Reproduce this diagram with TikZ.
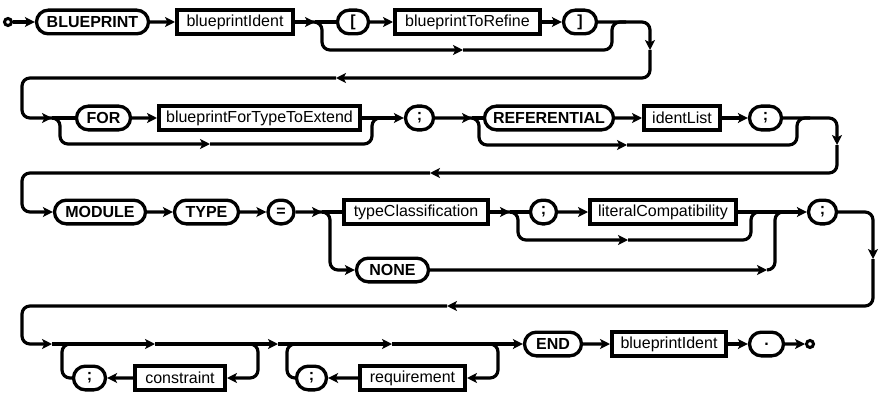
\documentclass[tikz,border=0pt]{standalone}
\usepackage{fontspec}
\setmainfont{Liberation Sans}
\usetikzlibrary{arrows.meta,shapes.misc}
\begin{document}
\begin{tikzpicture}[x=1pt,y=-1pt,
  conn/.style={line width=3.2pt, rounded corners=8pt},
  arr/.style={conn,-{Stealth[length=10pt,width=10pt,inset=2.5pt]}},
  nt/.style={draw, rectangle, line width=4pt, minimum height=24pt, inner sep=0pt, font=\fontsize{16}{18}\selectfont},
  tm/.style={draw, rounded rectangle, line width=3.3pt, minimum height=23.7pt, inner sep=0pt, font=\fontsize{16}{18}\selectfont\bfseries},
  dot/.style={draw, circle, line width=3pt, minimum size=7pt, inner sep=0pt}]
\useasboundingbox (0,0) rectangle (885,401);

% ---------- nodes ----------
\node[dot] (s) at (8,22) {};
\node[tm, minimum width=112pt] (t1) at (92.5,22) {BLUEPRINT};
\node[nt, minimum width=116pt] (n1) at (235,22) {blueprintIdent};
\node[tm, minimum width=31pt] (t2) at (353,22) {[};
\node[nt, minimum width=145pt] (n2) at (467.5,22) {blueprintToRefine};
\node[tm, minimum width=33pt] (t3) at (580,22) {]};

\node[tm, minimum width=54pt] (t4) at (103.5,118) {FOR};
\node[nt, minimum width=201pt] (n3) at (259.5,118) {blueprintForTypeToExtend};
\node[tm, minimum width=28pt] (t5) at (419.5,118) {;};
\node[tm, minimum width=129pt] (t6) at (549,118) {REFERENTIAL};
\node[nt, minimum width=76pt] (n4) at (682,118) {identList};
\node[tm, minimum width=32pt] (t7) at (765.5,118) {;};

\node[tm, minimum width=91pt] (t8) at (100,212) {MODULE};
\node[tm, minimum width=64pt] (t9) at (206.5,212) {TYPE};
\node[tm, minimum width=26pt] (t10) at (281,212) {=};
\node[nt, minimum width=144pt] (n5) at (416,212) {typeClassification};
\node[tm, minimum width=26pt] (t11) at (543.5,212) {;};
\node[nt, minimum width=146pt] (n6) at (663,212) {literalCompatibility};
\node[tm, minimum width=72pt] (t12) at (392.5,270) {NONE};
\node[tm, minimum width=28pt] (t13) at (822.5,212) {;};

\node[tm, minimum width=32pt] (t14) at (89.5,378) {;};
\node[nt, minimum width=90pt] (n7) at (180,378) {constraint};
\node[tm, minimum width=30pt] (t15) at (311.5,378) {;};
\node[nt, minimum width=105pt] (n8) at (412.5,378) {requirement};
\node[tm, minimum width=57pt] (t16) at (553,344) {END};
\node[nt, minimum width=114pt] (n9) at (669,344) {blueprintIdent};
\node[tm, minimum width=34pt] (t17) at (766.5,344) {.};
\node[dot] (e) at (810,344) {};

% ---------- junction coordinates ----------
\coordinate (b1) at (315,22);
\coordinate (m1) at (463,50);
\coordinate (r1) at (650,50);
\coordinate (c1) at (336,78);
\coordinate (b2) at (52,118);
\coordinate (m2) at (210,144);
\coordinate (b3) at (472,118);
\coordinate (m3) at (627,145);
\coordinate (r2) at (837,145);
\coordinate (c2) at (430,173);
\coordinate (b5) at (322,212);
\coordinate (b6) at (510,212);
\coordinate (m4) at (628,240);
\coordinate (m5) at (767,270);
\coordinate (r3) at (873,259);
\coordinate (c3) at (447,306);
\coordinate (b7) at (52,344);
\coordinate (m6) at (155,344);
\coordinate (m7) at (278,344);
\coordinate (m8) at (392,344);

% ---------- row 1 ----------
\draw[arr] (s) -- (t1);
\draw[arr] (t1) -- (n1);
\draw[arr] (n1) -- (b1);
\draw[conn] (b1) -- (t2);
\draw[arr] (t2) -- (n2);
\draw[arr] (n2) -- (t3);
\draw[arr] ([xshift=-5pt]b1) -| (322,50) -- (m1);
\draw[conn] (m1) -| (612,22) -- (626,22);
\draw[arr] (t3) -| (r1);
\draw[arr] (r1) |- (c1);
\draw[arr] (c1) -| (22,118) -- (b2);

% ---------- row 2 ----------
\draw[conn] (b2) -- (t4);
\draw[arr] (t4) -- (n3);
\draw[arr] (n3) -- (t5);
\draw[arr] ([xshift=-5pt]b2) -| (60,144) -- (m2);
\draw[conn] (m2) -| (372,118) -- (386,118);
\draw[arr] (t5) -- (b3);
\draw[conn] (b3) -- (t6);
\draw[arr] (t6) -- (n4);
\draw[arr] (n4) -- (t7);
\draw[arr] ([xshift=-5pt]b3) -| (479,145) -- (m3);
\draw[conn] (m3) -| (797,118) -- (810,118);
\draw[arr] (t7) -| (r2);
\draw[arr] (r2) |- (c2);
\draw[arr] (c2) -| (22,212) -- (t8);

% ---------- row 3 ----------
\draw[arr] (t8) -- (t9);
\draw[arr] (t9) -- (t10);
\draw[arr] (t10) -- (b5);
\draw[conn] (b5) -- (n5);
\draw[arr] ([xshift=-5pt]b5) -| (330,270) -- (t12);
\draw[arr] (n5) -- (b6);
\draw[conn] (b6) -- (t11);
\draw[arr] (t11) -- (n6);
\draw[arr] ([xshift=-5pt]b6) -| (518,240) -- (m4);
\draw[conn] (m4) -| (751,212) -- (764,212);
\draw[arr] (n6) -- (t13);
\draw[arr] (t12) -- (m5);
\draw[conn] (m5) -| (775,212) -- (788,212);
\draw[arr] (t13) -| (r3);
\draw[arr] (r3) |- (c3);
\draw[arr] (c3) -| (22,344) -- (b7);

% ---------- row 4 ----------
\draw[arr] (b7) -- (m6);
\draw[arr] (m6) -- (m7);
\draw[arr] (m7) -- (m8);
\draw[arr] (m8) -- (t16);
\draw[conn] (74,344) -| (62,378) -- (t14);
\draw[arr] (244,344) -| (258,378) -- (n7);
\draw[arr] (n7) -- (t14);
\draw[conn] (299,344) -| (287,378) -- (t15);
\draw[arr] (484,344) -| (498,378) -- (n8);
\draw[arr] (n8) -- (t15);
\draw[arr] (t16) -- (n9);
\draw[arr] (n9) -- (t17);
\draw[arr] (t17) -- (e);
\end{tikzpicture}
\end{document}
